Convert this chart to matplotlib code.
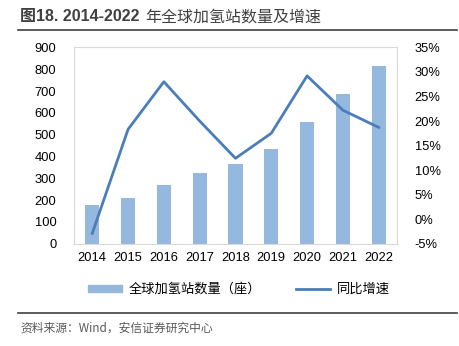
import matplotlib.pyplot as plt
import numpy as np
from matplotlib.lines import Line2D
from matplotlib.ticker import FuncFormatter

plt.rcParams['font.family'] = ['Liberation Sans', 'Noto Sans CJK SC', 'DejaVu Sans']

years = ['2014', '2015', '2016', '2017', '2018', '2019', '2020', '2021', '2022']
stations = [177, 209, 271, 324, 365, 432, 559, 685, 816]
growth = [-2.9, 18.3, 28.0, 20.0, 12.4, 17.5, 29.2, 22.2, 18.7]

bar_color = '#95B8DE'
line_color = '#4A7EBB'

fig = plt.figure(figsize=(4.59, 3.46), dpi=100)
ax = fig.add_axes([0.162, 0.2957, 0.702, 0.5673])
x = np.arange(len(years))
ax.bar(x, stations, width=0.4, color=bar_color, zorder=2)
ax.set_xlim(-0.5, len(years) - 0.5)
ax.set_ylim(0, 900)
ax.set_yticks(range(0, 901, 100))
ax.set_xticks(x)
ax.set_xticklabels(years)
ax.tick_params(length=0, labelsize=9.3, colors='#000000')
ax.tick_params(axis='x', pad=6)
ax.tick_params(axis='y', pad=13)
for s in ax.spines.values():
    s.set_color('#D9D9D9')
    s.set_linewidth(0.8)

ax2 = ax.twinx()
ax2.plot(x, growth, color=line_color, lw=2, zorder=3)
ax2.set_ylim(-5, 35)
ax2.set_yticks(range(-5, 36, 5))
ax2.yaxis.set_major_formatter(FuncFormatter(lambda v, p: '%d%%' % v))
ax2.tick_params(length=0, labelsize=9.3, pad=13)
for s in ax2.spines.values():
    s.set_visible(False)

handles = [plt.Rectangle((0, 0), 1, 1, color=bar_color),
           Line2D([0], [0], color=line_color, lw=2)]
fig.legend(handles, ['全球加氢站数量（座）', '同比增速'], loc='center',
           bbox_to_anchor=(0.52, 0.163), ncol=2, frameon=False,
           prop={'family': ['Noto Sans CJK SC'], 'size': 9.5},
           handlelength=2.6, handleheight=0.5, handletextpad=0.5,
           columnspacing=2.6)

# title and source
fig.text(0.044, 0.952, '图18. 2014-2022', fontsize=11.5,
         fontweight='bold', color='#404040', va='center',
         family=['Liberation Sans', 'Noto Sans CJK SC'])
fig.text(0.316, 0.952, '年全球加氢站数量及增速', fontsize=11.5,
         color='#404040', va='center', family=['Noto Sans CJK SC'])
fig.add_artist(Line2D([0.039, 0.995], [0.913, 0.913], color='#404040', lw=1.2))
fig.add_artist(Line2D([0.039, 0.995], [0.095, 0.095], color='#404040', lw=1.2))
fig.text(0.044, 0.052, '资料来源：Wind，安信证券研究中心', fontsize=8.5,
         style='italic', color='#595959', va='center',
         family=['Noto Sans CJK SC'])

fig.savefig('out.png', dpi=100)
